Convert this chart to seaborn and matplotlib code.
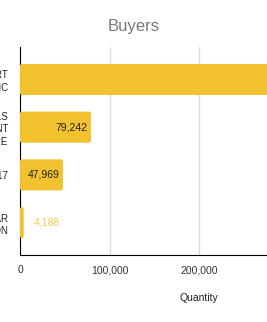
import numpy as np
import pandas as pd
import matplotlib
matplotlib.use('Agg')
import matplotlib.pyplot as plt
import seaborn as sns
from matplotlib.ticker import MultipleLocator
from matplotlib.patches import FancyBboxPatch

# Data (first bar runs past the visible edge)
buyers = ['KMART\nDOMESTIC', 'TOOLS\nEQUIPMENT\nSTORE', 'STORE 17', 'REGULAR\nPERSON']
quantity = [335000, 79242, 47969, 4188]

bar_color = '#f2c12e'
df = pd.DataFrame({'Buyer': buyers, 'Quantity': quantity})

sns.set_style('white')
plt.rcParams['font.family'] = ['Liberation Sans', 'DejaVu Sans']

fig = plt.figure(figsize=(2.67, 3.22), dpi=100)
ax = fig.add_axes([20 / 267, 67 / 322, 358 / 267, 208 / 322])

sns.barplot(data=df, x='Quantity', y='Buyer', orient='h', color=bar_color,
            saturation=1, width=0.65, ax=ax, zorder=3)

ax.set_xlim(0, 400000)
ax.set_ylim(3.68, -0.68)

# swap the square bars for slightly rounded ones
for p in list(ax.patches):
    x, y = p.get_x(), p.get_y()
    w, h = p.get_width(), p.get_height()
    p.remove()
    ax.add_patch(FancyBboxPatch((x, y), w, h, boxstyle='round,pad=0,rounding_size=2200',
                                mutation_aspect=1.9e-5, facecolor=bar_color,
                                edgecolor='none', zorder=3))

ax.xaxis.set_major_locator(MultipleLocator(100000))
ax.xaxis.set_minor_locator(MultipleLocator(100000 / 3))
ax.xaxis.set_major_formatter(matplotlib.ticker.FuncFormatter(lambda v, p: f'{int(v):,}'))
ax.grid(axis='x', which='major', color='#dddddd', linewidth=1, zorder=0)

for s in ['top', 'right']:
    ax.spines[s].set_visible(False)
ax.spines['left'].set_color('black')
ax.spines['bottom'].set_color('black')
ax.spines['left'].set_linewidth(0.8)
ax.spines['bottom'].set_linewidth(0.8)

ax.tick_params(axis='x', which='major', direction='inout', length=9, width=0.8,
               labelsize=7.5, colors='black', labelcolor='#333333', pad=3)
ax.tick_params(axis='x', which='minor', direction='inout', length=5, width=0.8, colors='black')
ax.tick_params(axis='y', direction='inout', length=9, width=0.8, labelsize=7,
               colors='black', labelcolor='#222222', pad=4)
for lbl in ax.get_yticklabels():
    lbl.set_linespacing(1.3)

ax.set_ylabel('')
ax.set_xlabel('Quantity', fontsize=7.5, color='#222222', labelpad=13)

# value labels
for i, v in enumerate(quantity):
    if v > 30000:
        ax.text(v - 3500, i, f'{v:,}', ha='right', va='center', fontsize=7.5,
                color='#222222', zorder=4)
    else:
        ax.text(v + 11000, i, f'{v:,}', ha='left', va='center', fontsize=7.5,
                color='#f5c842', zorder=4)

fig.text(0.5, 1 - 27 / 322, 'Buyers', ha='center', va='center', fontsize=12, color='#777777')

fig.savefig('out.png', dpi=100)
